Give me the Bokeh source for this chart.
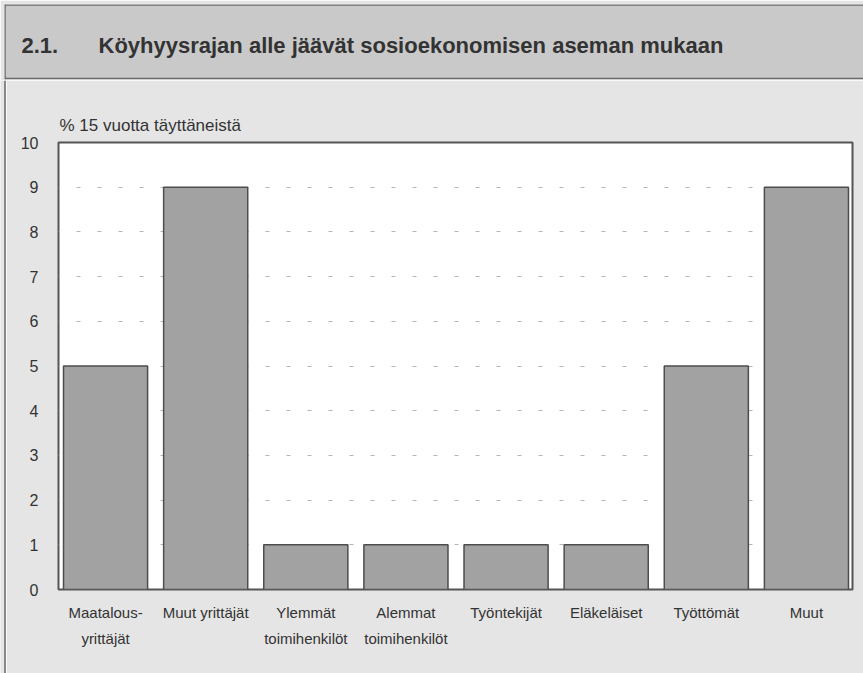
from bokeh.plotting import figure
from bokeh.models import Range1d, FixedTicker, Span, Title
from bokeh.layouts import column, row
from bokeh.embed import file_html
from bokeh.resources import INLINE
from bokeh.core.properties import value

# ---- data ----
categories = ["Maatalous-\nyrittäjät", "Muut yrittäjät", "Ylemmät\ntoimihenkilöt",
              "Alemmat\ntoimihenkilöt", "Työntekijät", "Eläkeläiset", "Työttömät", "Muut"]
values = [5.0, 9.0, 1.0, 1.0, 1.0, 1.0, 5.0, 9.0]
y_ticks = [0, 1, 2, 3, 4, 5, 6, 7, 8, 9, 10]
title_number = "2.1."
title_text = "Köyhyysrajan alle jäävät sosioekonomisen aseman mukaan"
unit_label = "% 15 vuotta täyttäneistä"

FONT = "Liberation Sans"
TXT = "#333333"
PAPER = "#e5e5e5"
HEAD = "#c9c9c9"
EDGE = "#6a6a6a"
TOTAL_W, TOTAL_H = 863, 673
HEAD_H = 80
STRIP_W = 6
MAIN_H = TOTAL_H - HEAD_H

# ---- header band ----
h = figure(width=TOTAL_W, height=HEAD_H, x_range=Range1d(0, TOTAL_W - 4),
           y_range=Range1d(0, HEAD_H - 5), x_axis_type=None, y_axis_type=None,
           toolbar_location=None, output_backend="svg",
           min_border_left=4, min_border_top=4, min_border_right=0, min_border_bottom=1)
h.frame_align = False
h.background_fill_color = HEAD
h.border_fill_color = PAPER
h.outline_line_color = None
h.add_layout(Span(location=HEAD_H - 5.5, dimension="width", line_color=EDGE, line_width=1.5))
h.add_layout(Span(location=1.0, dimension="width", line_color=EDGE, line_width=1.5))
h.add_layout(Span(location=0.5, dimension="height", line_color=EDGE, line_width=1.5))
h.text(x=[17], y=[34], text=[title_number], text_font=value(FONT), text_font_size="22px",
       text_font_style="bold", text_color=TXT, text_baseline="alphabetic", text_align="left")
h.text(x=[94], y=[34], text=[title_text], text_font=value(FONT), text_font_size="22px",
       text_font_style="bold", text_color=TXT, text_baseline="alphabetic", text_align="left")

# ---- thin left strip carrying the page border ----
s = figure(width=STRIP_W, height=MAIN_H, x_range=Range1d(0, STRIP_W), y_range=Range1d(0, 1),
           x_axis_type=None, y_axis_type=None, toolbar_location=None,
           output_backend="svg", min_border=0)
s.frame_align = False
s.background_fill_color = PAPER
s.border_fill_color = PAPER
s.outline_line_color = None
s.add_layout(Span(location=4.5, dimension="height", line_color=EDGE, line_width=1.5))

# ---- main chart ----
xs = list(range(len(categories)))
p = figure(width=TOTAL_W - STRIP_W, height=MAIN_H, x_range=Range1d(-0.47, 7.46),
           y_range=Range1d(0, 10), toolbar_location=None, output_backend="svg",
           min_border_left=52, min_border_right=11, min_border_top=62, min_border_bottom=84)
p.frame_align = False
p.background_fill_color = "white"
p.border_fill_color = PAPER
p.outline_line_color = "#555555"
p.outline_line_width = 2

p.vbar(x=xs, top=values, width=0.84, bottom=0, fill_color="#a2a2a2",
       line_color="#4d4d4d", line_width=1.5)

p.xgrid.grid_line_color = None
p.ygrid.ticker = FixedTicker(ticks=y_ticks[1:-1])
p.ygrid.grid_line_color = "#b5b5b5"
p.ygrid.grid_line_dash = "4 17"
p.ygrid.grid_line_dash_offset = 3

p.yaxis.ticker = FixedTicker(ticks=y_ticks)
p.yaxis.axis_line_color = None
p.yaxis.major_tick_line_color = None
p.yaxis.minor_tick_line_color = None
p.yaxis.major_label_standoff = 14
p.yaxis.major_label_text_font = FONT
p.yaxis.major_label_text_font_size = "16px"
p.yaxis.major_label_text_color = TXT

p.xaxis.ticker = FixedTicker(ticks=xs)
p.xaxis.major_label_overrides = {i: c for i, c in zip(xs, categories)}
p.xaxis.axis_line_color = None
p.xaxis.major_tick_line_color = None
p.xaxis.minor_tick_line_color = None
p.xaxis.major_label_standoff = 8
p.xaxis.major_label_text_font = FONT
p.xaxis.major_label_text_font_size = "15px"
p.xaxis.major_label_text_color = TXT
p.xaxis.major_label_text_line_height = 1.55

p.add_layout(Title(text=unit_label, align="left", offset=1, standoff=16,
                   text_font=FONT, text_font_size="17px", text_font_style="normal",
                   text_color=TXT), "above")

layout = column(h, row(s, p))
open("out.html", "w").write(file_html(layout, INLINE))
